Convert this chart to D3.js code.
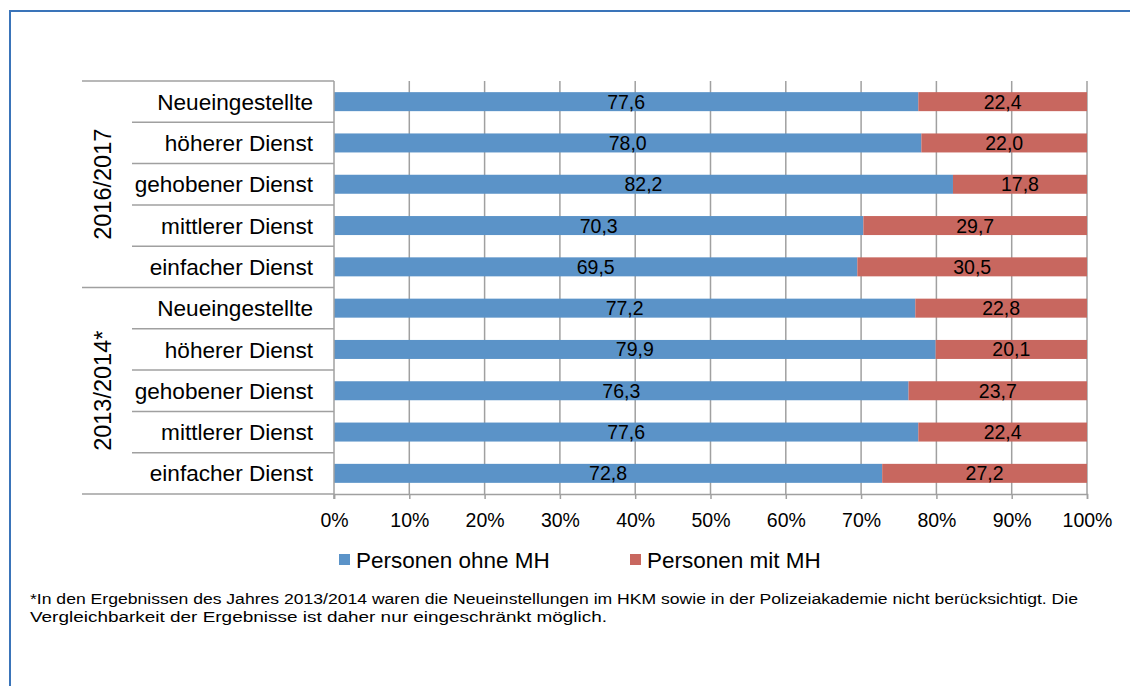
<!DOCTYPE html>
<html>
<head>
<meta charset="utf-8">
<script src="https://cdn.jsdelivr.net/npm/d3@7/dist/d3.min.js"></script>
<style>
  html, body { margin: 0; padding: 0; background: #fff; }
  svg { display: block; font-family: "Liberation Sans", Arial, sans-serif; }
</style>
</head>
<body>
<svg id="chart" width="1130" height="686"></svg>
<script>
// Rows from top to bottom
const groups = ["2016/2017", "2013/2014*"];
const categories = ["Neueingestellte", "höherer Dienst", "gehobener Dienst", "mittlerer Dienst", "einfacher Dienst"];
const ohneMH_2016 = [77.6, 78.0, 82.2, 70.3, 69.5];
const mitMH_2016 = [22.4, 22.0, 17.8, 29.7, 30.5];
const ohneMH_2013 = [77.2, 79.9, 76.3, 77.6, 72.8];
const mitMH_2013 = [22.8, 20.1, 23.7, 22.4, 27.2];
const seriesNames = ["Personen ohne MH", "Personen mit MH"];
const seriesColors = ["#5b93c8", "#c8675f"];
const tickValues = [0, 10, 20, 30, 40, 50, 60, 70, 80, 90, 100];
const footnote = [
  "*In den Ergebnissen des Jahres 2013/2014 waren die Neueinstellungen im HKM sowie in der Polizeiakademie nicht berücksichtigt. Die",
  "Vergleichbarkeit der Ergebnisse ist daher nur eingeschränkt möglich."
];
const footnoteWidths = [1048, 577];

const rows = [];
[[ohneMH_2016, mitMH_2016], [ohneMH_2013, mitMH_2013]].forEach(([a, b], gi) => {
  categories.forEach((c, i) => rows.push({ key: gi + "-" + i, group: groups[gi], cat: c, ohne: a[i], mit: b[i] }));
});

const svg = d3.select("#chart");
const plot = { left: 334, right: 1087, top: 81, bottom: 494 };

// Frame around the figure
svg.append("line").attr("x1", 10).attr("x2", 1130).attr("y1", 11).attr("y2", 11)
  .attr("stroke", "#3a74b9").attr("stroke-width", 2);
svg.append("line").attr("x1", 10).attr("x2", 10).attr("y1", 10).attr("y2", 686)
  .attr("stroke", "#3a74b9").attr("stroke-width", 2);

const x = d3.scaleLinear().domain([0, 100]).range([plot.left, plot.right]);
const y = d3.scaleBand().domain(rows.map(d => d.key)).range([plot.top, plot.bottom]).paddingInner(0.54).paddingOuter(0.27);
const band = d3.scaleBand().domain(rows.map(d => d.key)).range([plot.top, plot.bottom]);

// Vertical gridlines
svg.append("g").selectAll("line").data(tickValues.slice(1)).join("line")
  .attr("x1", d => x(d)).attr("x2", d => x(d))
  .attr("y1", plot.top).attr("y2", plot.bottom)
  .attr("stroke", "#a0a0a0").attr("stroke-width", 1.5);

// Stacked bars
const stack = d3.stack().keys(["ohne", "mit"])(rows);
const barG = svg.append("g");
stack.forEach((layer, li) => {
  barG.append("g").attr("fill", seriesColors[li]).selectAll("rect").data(layer).join("rect")
    .attr("x", d => x(d[0])).attr("width", d => x(d[1]) - x(d[0]))
    .attr("y", d => y(d.data.key)).attr("height", y.bandwidth());
  barG.append("g").selectAll("text").data(layer).join("text")
    .attr("x", d => (x(d[0]) + x(d[1])) / 2)
    .attr("y", d => y(d.data.key) + y.bandwidth() / 2)
    .attr("dy", "0.36em").attr("text-anchor", "middle")
    .attr("font-size", 19.5).attr("fill", "#000")
    .text(d => d3.format(".1f")(d[1] - d[0]).replace(".", ","));
});

// Value axis at the bottom
const xAxis = d3.axisBottom(x).tickValues(tickValues).tickFormat(d => d + "%").tickSize(5).tickPadding(14);
const xg = svg.append("g").attr("transform", `translate(0,${plot.bottom})`).call(xAxis);
xg.select(".domain").attr("stroke", "#a0a0a0").attr("stroke-width", 1.5);
xg.selectAll(".tick line").attr("stroke", "#a0a0a0").attr("stroke-width", 1.5);
xg.selectAll(".tick text").attr("font-size", 19.5).attr("fill", "#000").attr("font-family", "Liberation Sans, Arial, sans-serif");

// Category axis line
svg.append("line").attr("x1", plot.left).attr("x2", plot.left).attr("y1", plot.top).attr("y2", plot.bottom + 5)
  .attr("stroke", "#a0a0a0").attr("stroke-width", 1.5);

// Category separators: short lines inside groups, long lines at group borders
const bounds = d3.range(rows.length + 1).map(i => i < rows.length ? band(rows[i].key) : plot.bottom);
svg.append("g").selectAll("line").data(bounds).join("line")
  .attr("x1", (d, i) => i % categories.length === 0 ? 82 : 132)
  .attr("x2", plot.left).attr("y1", d => d).attr("y2", d => d)
  .attr("stroke", "#a0a0a0").attr("stroke-width", 1.5);

// Category labels
svg.append("g").selectAll("text").data(rows).join("text")
  .attr("x", 313).attr("y", d => band(d.key) + band.bandwidth() / 2)
  .attr("dy", "0.36em").attr("text-anchor", "end")
  .attr("font-size", 22.6).attr("fill", "#000").text(d => d.cat);

// Group labels, rotated
svg.append("g").selectAll("text").data(groups).join("text")
  .attr("transform", (g, gi) => {
    const y0 = band(rows[gi * categories.length].key);
    const y1 = gi === groups.length - 1 ? plot.bottom : band(rows[(gi + 1) * categories.length].key);
    return `translate(103,${(y0 + y1) / 2}) rotate(-90)`;
  })
  .attr("dy", "0.36em").attr("text-anchor", "middle")
  .attr("font-size", 23.5).attr("fill", "#000").text(d => d);

// Legend
const legendX = [339, 630];
const lg = svg.append("g").selectAll("g").data(seriesNames).join("g")
  .attr("transform", (d, i) => `translate(${legendX[i]},554)`);
lg.append("rect").attr("width", 11).attr("height", 11).attr("fill", (d, i) => seriesColors[i]);
lg.append("text").attr("x", 17).attr("y", 5.5).attr("dy", "0.36em")
  .attr("font-size", 22.5).attr("fill", "#000").text(d => d);

// Footnote
svg.append("g").selectAll("text").data(footnote).join("text")
  .attr("x", 30).attr("y", (d, i) => 604 + i * 18)
  .attr("font-size", 15.5).attr("fill", "#000")
  .attr("textLength", (d, i) => footnoteWidths[i]).attr("lengthAdjust", "spacingAndGlyphs")
  .text(d => d);
</script>
</body>
</html>
